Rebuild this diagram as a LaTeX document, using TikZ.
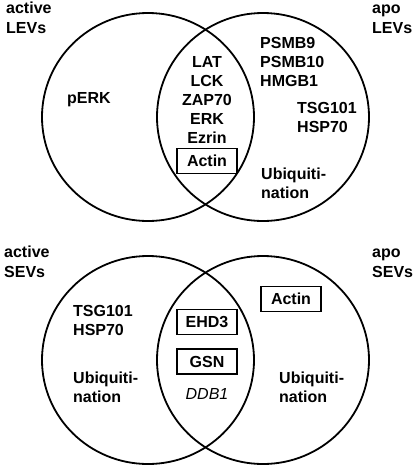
\documentclass[tikz,border=0pt]{standalone}
\usepackage{fontspec}
\setmainfont{Liberation Sans}
\begin{document}
\begin{tikzpicture}[x=1pt,y=-1pt,
  txt/.style={font=\bfseries\fontsize{16}{19}\selectfont, inner sep=0pt, align=left, anchor=north west},
  hdr/.style={font=\bfseries\fontsize{16}{20}\selectfont, inner sep=0pt, align=left, anchor=north west},
  mid/.style={font=\bfseries\fontsize{16}{19}\selectfont, inner sep=0pt, align=center, anchor=north},
  venn/.style={line width=1.8pt},
  tag/.style={draw, line width=1.2pt, font=\bfseries\fontsize{16}{19}\selectfont, minimum width=60pt, minimum height=25pt, inner sep=0pt}]
\useasboundingbox (0,0) rectangle (413,467);
% top Venn
\draw[venn] (148,117) ellipse [x radius=106pt, y radius=104pt];
\draw[venn] (263,117) ellipse [x radius=106pt, y radius=104pt];
% bottom Venn
\draw[venn] (148,360) ellipse [x radius=106pt, y radius=104pt];
\draw[venn] (263,360) ellipse [x radius=106pt, y radius=104pt];
% top labels
\node[hdr] (actL) at (6,2) {active\\LEVs};
\node[hdr] (apoL) at (372,2) {\vphantom{A}apo\\LEVs};
\node[txt] (perk) at (67,92.5) {pERK};
\node[mid] (shared) at (207,56.5) {LAT\\LCK\\ZAP70\\ERK\\Ezrin};
\node[tag] (actin1) at (207,161) {Actin};
\node[txt] (psmb) at (260,37.5) {PSMB9\\PSMB10\\HMGB1};
\node[txt] (tsgL) at (297,102.5) {TSG101\\HSP70};
\node[txt] (ubiL) at (261,167.5) {Ubiquiti-\\nation};
% bottom labels
\node[hdr] (actS) at (4,246) {active\\SEVs};
\node[hdr] (apoS) at (372,246) {\vphantom{A}apo\\SEVs};
\node[txt] (tsgS) at (73,305.5) {TSG101\\HSP70};
\node[txt] (ubiS1) at (73,371.5) {Ubiquiti-\\nation};
\node[txt] (ubiS2) at (279,371.5) {Ubiquiti-\\nation};
\node[tag] (ehd) at (207,322) {EHD3};
\node[tag] (gsn) at (207,361.5) {GSN};
\node[font=\itshape\fontsize{16}{19}\selectfont, inner sep=0pt] (ddb) at (207,394) {DDB1};
\node[tag] (actin2) at (291,299) {Actin};
\end{tikzpicture}
\end{document}
